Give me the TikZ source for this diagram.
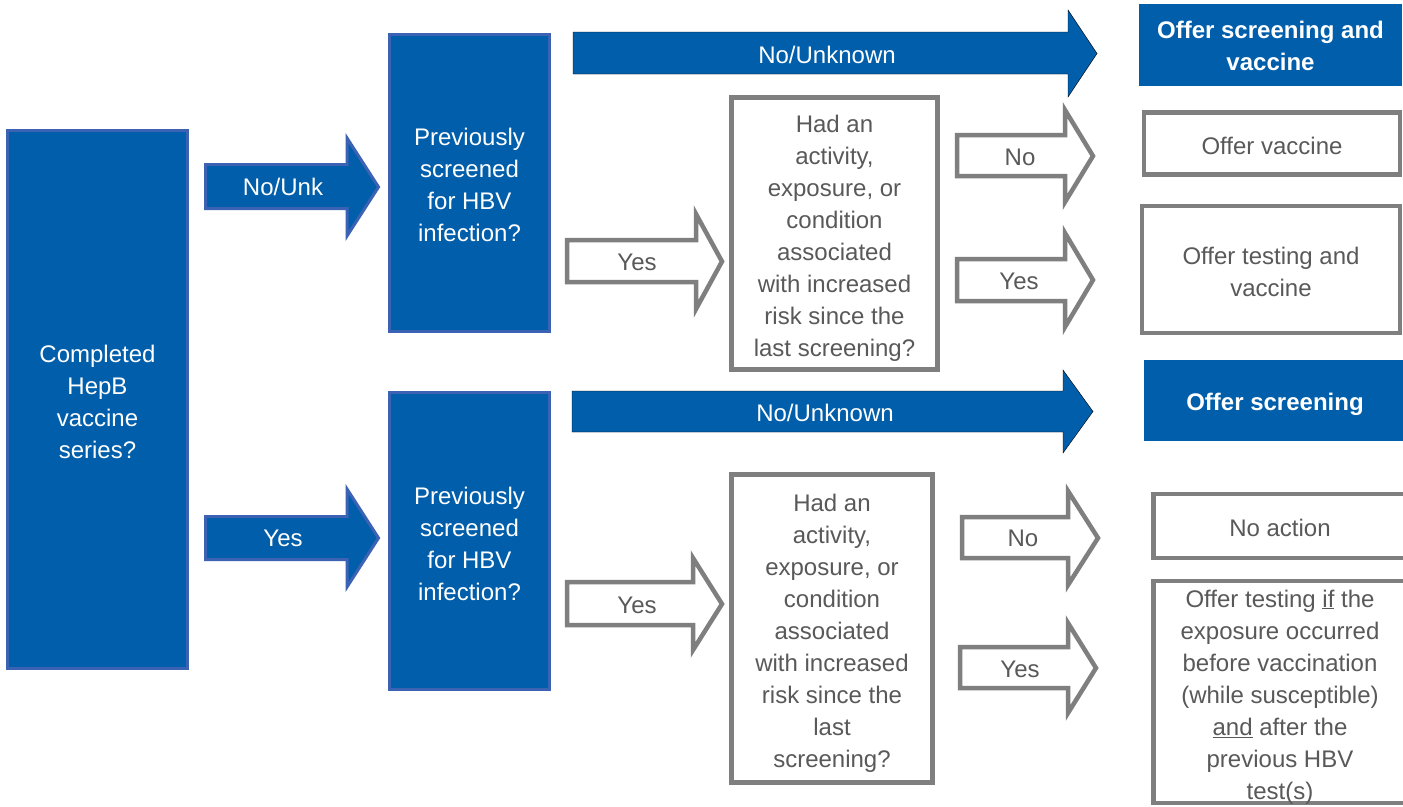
\documentclass[tikz,border=0pt]{standalone}
\usepackage{fontspec}
\setmainfont{Liberation Sans}
\definecolor{hblue}{RGB}{0,94,170}
\definecolor{hborder}{RGB}{60,98,180}
\definecolor{hgray}{RGB}{127,127,127}
\definecolor{htext}{RGB}{89,89,89}
\newcommand\blockarrow[8]{% style, xl, xb, xt, bt, bb, ht, hb
  \draw[#1] (#2,#5) -- (#3,#5) -- (#3,#7) -- (#4,{(#7+#8)/2}) -- (#3,#8) -- (#3,#6) -- (#2,#6) -- cycle;}
\begin{document}
\begin{tikzpicture}[x=1pt,y=-1pt,
  every node/.style={font=\fontsize{24}{32}\selectfont, align=center, inner sep=0pt},
  bluebox/.style={fill=hblue, draw=hborder, line width=3pt},
  plainblue/.style={fill=hblue},
  graybox/.style={fill=white, draw=hgray, line width=4.5pt},
  bluearrow/.style={fill=hblue, draw=hborder, line width=3pt},
  flatarrow/.style={fill=hblue},
  grayarrow/.style={fill=white, draw=hgray, line width=4.5pt, line join=miter},
  wlabel/.style={text=white},
  blabel/.style={text=white, font=\fontsize{24}{32}\selectfont\bfseries},
  glabel/.style={text=htext}]
\fill[white] (0,0) rectangle (1403,806);
\useasboundingbox (0,0) rectangle (1403,806);
\clip (0,0) rectangle (1403,806);

% boxes
\node[bluebox, minimum width=180, minimum height=538] (comp) at (97.5,399.5) {};
\node[wlabel] at ([yshift=-2pt]comp.center) {Completed\\HepB\\vaccine\\series?};
\node[bluebox, minimum width=160, minimum height=297] (prev1) at (469.5,183) {};
\node[wlabel] at ([yshift=-2pt]prev1.center) {Previously\\screened\\for HBV\\infection?};
\node[bluebox, minimum width=160, minimum height=297] (prev2) at (469.5,541) {};
\node[wlabel] at ([yshift=-3pt]prev2.center) {Previously\\screened\\for HBV\\infection?};
\node[graybox, minimum width=206, minimum height=272] (had1) at (834.5,233.5) {};
\node[glabel] at ([yshift=-5pt]had1.center) {Had an\\activity,\\exposure, or\\condition\\associated\\with increased\\risk since the\\last screening?};
\node[graybox, minimum width=201, minimum height=308] (had2) at (832,628.5) {};
\node[glabel] at ([yshift=-5pt]had2.center) {Had an\\activity,\\exposure, or\\condition\\associated\\with increased\\risk since the\\last\\screening?};
\node[plainblue, minimum width=263, minimum height=82] (osv) at (1270.5,45) {};
\node[blabel] at ([yshift=-1pt]osv.center) {Offer screening and\\vaccine};
\node[graybox, minimum width=256, minimum height=62] (ov) at (1272,143.5) {};
\node[glabel] at ([yshift=-2pt]ov.center) {Offer vaccine};
\node[graybox, minimum width=258, minimum height=127] (otv) at (1271,269.5) {};
\node[glabel] at ([yshift=-2pt]otv.center) {Offer testing and\\vaccine};
\node[plainblue, minimum width=262, minimum height=81] (os) at (1275,400.5) {};
\node[blabel] at ([yshift=-4pt]os.center) {Offer screening};
\node[graybox, minimum width=257, minimum height=64, anchor=west] (na) at (1151,526) {};
\node[glabel] at (1280,528) {No action};
\node[graybox, minimum width=257, minimum height=222, anchor=west] (oti) at (1151,692) {};
\node[glabel] at (1280,697) {Offer testing \underline{if} the\\exposure occurred\\before vaccination\\(while susceptible)\\\underline{and} after the\\previous HBV\\test(s)};

% block arrows
\blockarrow{bluearrow}{205.5}{347}{378.5}{164.5}{208.5}{138}{236}
\node[wlabel] (lnu) at (283,187) {No/Unk};
\blockarrow{bluearrow}{205.5}{347}{378.5}{516.5}{559.5}{489}{587}
\node[wlabel] (lyes) at (283,538) {Yes};

\blockarrow{flatarrow}{573}{1068}{1097}{32}{74}{10}{97}
\node[wlabel] (tnu1) at (827,55) {No/Unknown};
\blockarrow{flatarrow}{572}{1063}{1093}{391}{432}{370}{453}
\node[wlabel] (tnu2) at (825,413) {No/Unknown};

\blockarrow{grayarrow}{567}{696}{722}{240}{282}{214}{309}
\node[glabel] (y1) at (637,262) {Yes};
\blockarrow{grayarrow}{567}{693}{722}{582}{625}{558}{650}
\node[glabel] (y2) at (637,605) {Yes};

\blockarrow{grayarrow}{957}{1065}{1093}{135}{176}{110}{202}
\node[glabel] (n1) at (1020,157) {No};
\blockarrow{grayarrow}{957}{1065}{1093}{259}{301}{233}{327}
\node[glabel] (y3) at (1019,281) {Yes};
\blockarrow{grayarrow}{962}{1068}{1098}{517}{558}{491}{585}
\node[glabel] (n2) at (1023,538) {No};
\blockarrow{grayarrow}{960}{1068}{1096}{647}{688}{623}{713}
\node[glabel] (y4) at (1020,669) {Yes};
\end{tikzpicture}
\end{document}
